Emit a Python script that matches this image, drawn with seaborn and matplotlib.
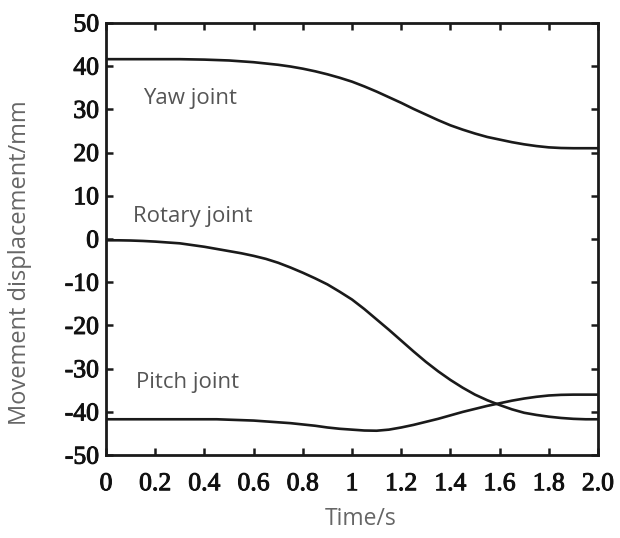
import matplotlib
matplotlib.use("Agg")
import matplotlib.patheffects as pe
import matplotlib.pyplot as plt
import pandas as pd
import seaborn as sns

# values, every 0.05 s
time_s = [0.0, 0.05, 0.1, 0.15, 0.2, 0.25, 0.3, 0.35, 0.4, 0.45, 0.5,
          0.55, 0.6, 0.65, 0.7, 0.75, 0.8, 0.85, 0.9, 0.95, 1.0,
          1.05, 1.1, 1.15, 1.2, 1.25, 1.3, 1.35, 1.4, 1.45, 1.5,
          1.55, 1.6, 1.65, 1.7, 1.75, 1.8, 1.85, 1.9, 1.95, 2.0]
yaw = [41.6, 41.6, 41.6, 41.6, 41.6, 41.6, 41.6, 41.55, 41.5, 41.4, 41.3,
       41.1, 40.9, 40.6, 40.3, 39.9, 39.4, 38.8, 38.1, 37.3, 36.4,
       35.3, 34.1, 32.8, 31.5, 30.1, 28.8, 27.5, 26.3, 25.3, 24.4,
       23.6, 23.0, 22.4, 21.9, 21.5, 21.2, 21.05, 21.0, 21.0, 21.0]
rotary = [-0.3, -0.3, -0.35, -0.45, -0.6, -0.8, -1.0, -1.4, -1.8, -2.3, -2.8,
          -3.3, -3.9, -4.6, -5.5, -6.6, -7.8, -9.1, -10.5, -12.2, -14.0,
          -16.2, -18.6, -21.0, -23.5, -26.0, -28.4, -30.6, -32.6, -34.4, -36.0,
          -37.3, -38.4, -39.4, -40.2, -40.7, -41.1, -41.4, -41.6, -41.7, -41.7]
pitch = [-41.7, -41.7, -41.7, -41.7, -41.7, -41.7, -41.7, -41.7, -41.7, -41.7, -41.8,
         -41.9, -42.0, -42.2, -42.4, -42.6, -42.9, -43.2, -43.6, -43.9, -44.1,
         -44.3, -44.35, -44.1, -43.6, -43.0, -42.3, -41.6, -40.8, -40.0, -39.3,
         -38.6, -38.0, -37.4, -36.9, -36.5, -36.2, -36.05, -36.0, -36.0, -36.0]

joint_names = ["Yaw joint", "Rotary joint", "Pitch joint"]
label_pos = [(0.15, 32.6), (0.11, 5.1), (0.12, -33.3)]

x_ticks = [0, 0.2, 0.4, 0.6, 0.8, 1.0, 1.2, 1.4, 1.6, 1.8, 2.0]
x_tick_labels = ["0", "0.2", "0.4", "0.6", "0.8", "1", "1.2", "1.4", "1.6", "1.8", "2.0"]
y_ticks = [-50, -40, -30, -20, -10, 0, 10, 20, 30, 40, 50]
y_tick_labels = ["-50", "-40", "-30", "-20", "-10", "0", "10", "20", "30", "40", "50"]


def main() -> None:
    sns.set_style("ticks")
    df = pd.DataFrame({
        "t": time_s * 3,
        "v": yaw + rotary + pitch,
        "joint": sum([[n] * len(time_s) for n in joint_names], []),
    })

    fig = plt.figure(figsize=(6.2, 5.38), dpi=100)
    ax = fig.add_axes([0.171, 0.154, 0.7935, 0.8035])
    sns.lineplot(data=df, x="t", y="v", units="joint", estimator=None,
                 color="#1a1a1a", linewidth=1.9, sort=False, ax=ax)

    ax.set_xlim(0, 2.0)
    ax.set_ylim(-50, 50)
    ax.set_xticks(x_ticks)
    ax.set_xticklabels(x_tick_labels)
    ax.set_yticks(y_ticks)
    ax.set_yticklabels(y_tick_labels)
    # the scanned labels look a bit heavier than plain Times
    thicken = [pe.withStroke(linewidth=0.7, foreground="#111111")]
    for lab in ax.get_xticklabels() + ax.get_yticklabels():
        lab.set_family("Liberation Serif")
        lab.set_fontsize(18.5)
        lab.set_color("#111111")
        lab.set_path_effects(thicken)
    ax.tick_params(direction="in", length=5, width=1.8, top=True, right=True,
                   color="#1a1a1a")
    ax.tick_params(axis="x", pad=13)
    ax.tick_params(axis="y", pad=5)
    for sp in ax.spines.values():
        sp.set_linewidth(2)
        sp.set_color("#1a1a1a")

    ax.set_xlabel("Time/s", family="Open Sans", fontsize=16.5, color="#666666")
    ax.set_ylabel("Movement displacement/mm", family="Open Sans", fontsize=17,
                  color="#666666")
    ax.xaxis.set_label_coords(0.518, -0.12)
    ax.yaxis.set_label_coords(-0.15, 0.446)

    for name, (lx, ly) in zip(joint_names, label_pos):
        ax.text(lx, ly, name, family="Open Sans", fontsize=16, color="#555555",
                va="center", ha="left")

    fig.savefig("out.png", dpi=100)
    plt.close(fig)


if __name__ == "__main__":
    main()
